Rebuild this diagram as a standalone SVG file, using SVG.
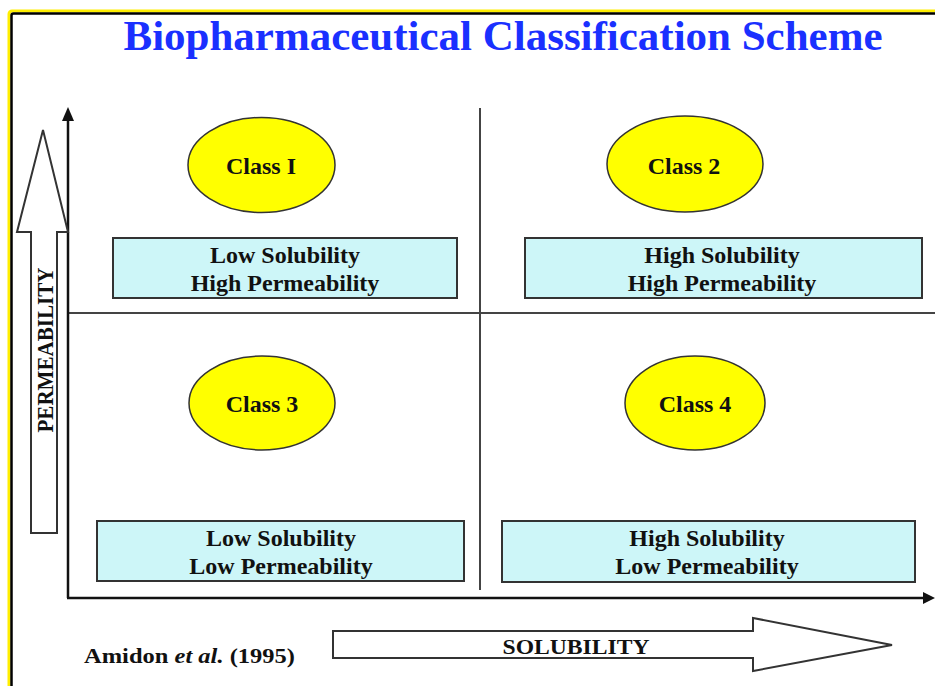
<svg xmlns="http://www.w3.org/2000/svg" width="935" height="686" viewBox="0 0 935 686">
<style>
.t{font-family:"Liberation Serif","Times New Roman",serif;font-weight:bold;fill:#111;text-anchor:middle}
.ell{fill:#ffff00;stroke:#333;stroke-width:1.5}
.box{fill:#cdf6f8;stroke:#333;stroke-width:2}
.div{stroke:#444;stroke-width:2;fill:none}
.ax{stroke:#111;stroke-width:2.5;fill:none}
.hollow{fill:#fff;stroke:#333;stroke-width:2;stroke-linejoin:miter}
</style>
<rect x="0" y="0" width="935" height="686" fill="#fff"/>
<g id="frame">
<rect x="9" y="11" width="1000" height="1000" rx="3" fill="none" stroke="#ffee00" stroke-width="3"/>
<rect x="11.5" y="13.5" width="1000" height="1000" rx="2" fill="none" stroke="#000" stroke-width="2.5"/>
</g>
<text id="title" class="t" x="503" y="50" font-size="42" style="fill:#1a30ff" textLength="759" lengthAdjust="spacingAndGlyphs">Biopharmaceutical Classification Scheme</text>
<g id="connectors">
<line class="div" x1="480" y1="108" x2="480" y2="590"/>
<line class="div" x1="68" y1="313" x2="935" y2="313"/>
<line class="ax" x1="68" y1="598" x2="68" y2="118"/>
<polygon points="62,121 74,121 68,107" fill="#111"/>
<line class="ax" x1="67" y1="598" x2="925" y2="598"/>
<polygon points="923,592 935,598 923,604" fill="#111"/>
</g>
<g id="permeability-arrow">
<polygon class="hollow" points="31,533 57,533 57,232 68,232 43,130 17,232 31,232"/>
<text class="t" transform="translate(53,350) rotate(-90)" x="0" y="0" font-size="24" textLength="165" lengthAdjust="spacingAndGlyphs">PERMEABILITY</text>
</g>
<g id="solubility-arrow">
<polygon class="hollow" points="333,631 753,631 753,618 892,645 753,671 753,658 333,658"/>
<text class="t" x="576" y="654" font-size="22" textLength="147" lengthAdjust="spacingAndGlyphs">SOLUBILITY</text>
</g>
<g id="class1">
<ellipse class="ell" cx="261.5" cy="165" rx="73.5" ry="47.5"/>
<text class="t" x="261" y="174" font-size="24">Class I</text>
</g>
<g id="class2">
<ellipse class="ell" cx="685" cy="164" rx="78" ry="48"/>
<text class="t" x="684" y="174" font-size="24">Class  2</text>
</g>
<g id="class3">
<ellipse class="ell" cx="262" cy="403" rx="73" ry="47"/>
<text class="t" x="262" y="412" font-size="24">Class 3</text>
</g>
<g id="class4">
<ellipse class="ell" cx="695" cy="403" rx="70" ry="47"/>
<text class="t" x="695" y="412" font-size="24">Class 4</text>
</g>
<g id="box1">
<rect class="box" x="113" y="238" width="344" height="60"/>
<text class="t" x="285" y="263" font-size="24">Low Solubility</text>
<text class="t" x="285" y="291" font-size="24">High Permeability</text>
</g>
<g id="box2">
<rect class="box" x="525" y="238" width="397" height="60"/>
<text class="t" x="722" y="263" font-size="24">High Solubility</text>
<text class="t" x="722" y="291" font-size="24">High Permeability</text>
</g>
<g id="box3">
<rect class="box" x="97" y="521" width="367" height="60"/>
<text class="t" x="281" y="546" font-size="24">Low Solubility</text>
<text class="t" x="281" y="574" font-size="24">Low Permeability</text>
</g>
<g id="box4">
<rect class="box" x="502" y="521" width="413" height="61"/>
<text class="t" x="707" y="546" font-size="24">High Solubility</text>
<text class="t" x="707" y="574" font-size="24">Low Permeability</text>
</g>
<g id="citation">
<text class="t" x="189.5" y="663" font-size="22" textLength="211" lengthAdjust="spacingAndGlyphs">Amidon <tspan font-style="italic">et al.</tspan> (1995)</text>
</g>
</svg>
